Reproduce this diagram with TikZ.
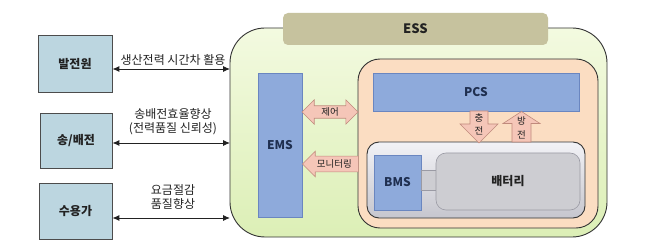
\documentclass[tikz,border=0pt]{standalone}
\usepackage{fontspec}
\setmainfont{Noto Sans CJK KR}
\usetikzlibrary{shapes.arrows,arrows.meta}
\definecolor{srcfill}{HTML}{BCD6E0}
\definecolor{essbar}{HTML}{C6C29E}
\definecolor{greentop}{HTML}{F3FAE0}
\definecolor{greenbot}{HTML}{DCEFB6}
\definecolor{peach}{HTML}{FBDDC2}
\definecolor{blue1}{HTML}{8EAADB}
\definecolor{bluedk}{HTML}{6A86C0}
\definecolor{navy}{HTML}{1F2F50}
\definecolor{graytop}{HTML}{F2F2F6}
\definecolor{graybot}{HTML}{C6C6CE}
\definecolor{batfill}{HTML}{CDCDD2}
\definecolor{batdk}{HTML}{9A9AA4}
\definecolor{pink1}{HTML}{F5C6B8}
\definecolor{pinkdk}{HTML}{C08A7C}
\definecolor{txt}{HTML}{222222}
\tikzset{
  srcbox/.style={draw=black!70, fill=srcfill, line width=0.8pt, text=txt,
    font=\bfseries\fontsize{12}{14}\selectfont},
  bluebox/.style={draw=bluedk, fill=blue1, line width=0.6pt, text=navy,
    font=\bfseries\fontsize{12}{14}\selectfont},
  blkarrow/.style={draw=pinkdk, fill=pink1, line width=0.6pt, text=txt,
    font=\fontsize{9.5}{10}\selectfont},
  link/.style={{Latex[length=7pt,width=6pt]}-{Latex[length=7pt,width=6pt]}, line width=0.9pt, draw=txt},
  lbl/.style={font=\fontsize{12}{14}\selectfont, align=center, text=txt, inner sep=0pt},
  albl/.style={font=\fontsize{9.5}{10}\selectfont, text=txt, inner sep=0pt}
}
\begin{document}
\begin{tikzpicture}[x=1pt,y=-1pt]
\useasboundingbox (0,0) rectangle (658,248);
\fill[white] (0,0) rectangle (658,248);

% ESS container
\node[draw=black!80, line width=0.9pt, rounded corners=35, top color=greentop, bottom color=greenbot,
  minimum width=377pt, minimum height=209pt] (ess) at (418.5,132.5) {};
\node[fill=essbar, rounded corners=5, minimum width=265pt, minimum height=32pt, text=txt,
  font=\bfseries\fontsize{13}{15}\selectfont] (esslbl) at (415.5,29) {ESS};

% left boxes
\node[srcbox, minimum width=74pt, minimum height=57pt] (gen) at (75,63.5) {발전원};
\node[srcbox, minimum width=72pt, minimum height=55pt] (trans) at (76,140.5) {송/배전};
\node[srcbox, minimum width=73pt, minimum height=56pt] (cons) at (75.5,211) {수용가};

% connectors to ESS
\coordinate (e1) at (230,69);
\coordinate (e2) at (230,143);
\coordinate (e3) at (230,218);
\draw[link] (gen.east |- e1) -- (e1);
\draw[link] (trans.east |- e2) -- (e2);
\draw[link] (cons.east |- e3) -- (e3);
\node[lbl] (l1) at (173,59.5) {생산전력 시간차 활용};
\node[lbl] (l2) at (173,122) {송배전효율향상\\(전력품질 신뢰성)};
\node[lbl] (l3) at (173,197) {요금절감\\품질향상};

% EMS
\node[bluebox, minimum width=44pt, minimum height=144pt] (ems) at (280,145) {EMS};

% PCS / battery group
\node[draw=black!80, line width=0.9pt, fill=peach, rounded corners=22,
  minimum width=240pt, minimum height=169pt] (grp) at (478,143.5) {};
\node[bluebox, minimum width=206pt, minimum height=38pt] (pcs) at (476,92) {PCS};
\node[draw=black!80, line width=0.9pt, rounded corners=12, top color=graytop, bottom color=graybot,
  minimum width=218pt, minimum height=76pt] (bcont) at (476,180) {};
\node[bluebox, minimum width=47pt, minimum height=55pt] (bms) at (397.5,182.5) {BMS};
\node[fill=batfill, draw=batdk, line width=0.5pt, minimum width=16pt, minimum height=20pt] (blink) at (429,180) {};
\node[fill=batfill, draw=batdk, line width=0.6pt, rounded corners=10, text=txt,
  font=\bfseries\fontsize{12}{14}\selectfont, minimum width=144pt, minimum height=57pt] (bat) at (508,181.5) {배터리};

% block arrows EMS <-> group
\node[double arrow, blkarrow, minimum height=56pt, double arrow head extend=6pt,
  inner xsep=2pt, inner ysep=1.6pt] (ctl) at (330,112) {제어};
\node[single arrow, blkarrow, shape border rotate=180, minimum height=56pt, single arrow head extend=5pt,
  inner xsep=1pt, inner ysep=3.2pt, anchor=tip] (mon) at (302,164) {모니터링};

% charge / discharge
\draw[blkarrow] (470,111) -- (470,124) -- (460,124) -- (479,143) -- (498,124) -- (488,124) -- (488,111) -- cycle;
\node[albl] (ch1) at (479,117.5) {충};
\node[albl] (ch2) at (479,130.5) {전};
\draw[blkarrow] (512,142) -- (512,123.5) -- (503,123.5) -- (521.5,111.5) -- (540,123.5) -- (531,123.5) -- (531,142) -- cycle;
\node[albl] (dc1) at (521.5,121) {방};
\node[albl] (dc2) at (521.5,134.5) {전};
\end{tikzpicture}
\end{document}
